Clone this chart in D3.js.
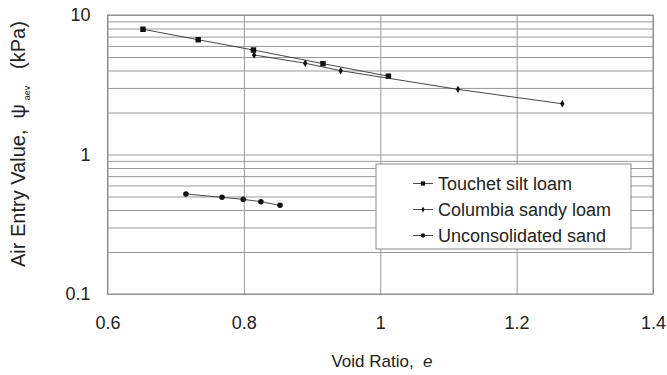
<!DOCTYPE html>
<html>
<head>
<meta charset="utf-8">
<script src="https://cdn.jsdelivr.net/npm/d3@7"></script>
<style>
  body { margin: 0; background: #fff; }
  svg text { font-family: "Liberation Sans", Arial, sans-serif; fill: #222; }
  .grid line { stroke: #9a9a9a; stroke-width: 1; }
  .grid path { display: none; }
  .axis path, .axis line { display: none; }
</style>
</head>
<body>
<svg id="chart"></svg>
<script>
// Void ratio (x) and air entry value in kPa (y)
const touchetE   = [0.652, 0.733, 0.814, 0.916, 1.012];
const touchetAev = [7.90, 6.65, 5.61, 4.48, 3.64];

const columbiaE   = [0.815, 0.890, 0.942, 1.114, 1.267];
const columbiaAev = [5.17, 4.51, 3.99, 2.93, 2.31];

const sandE   = [0.715, 0.768, 0.799, 0.825, 0.853];
const sandAev = [0.521, 0.493, 0.477, 0.459, 0.432];

const seriesNames = ['Touchet silt loam', 'Columbia sandy loam', 'Unconsolidated sand'];
const xTicks = [0.6, 0.8, 1.0, 1.2, 1.4];
const xTickLabels = ['0.6', '0.8', '1', '1.2', '1.4'];
const yTicks = [0.1, 1, 10];
const yTickLabels = ['0.1', '1', '10'];

const W = 667, H = 375;
const margin = {top: 15, right: 14, bottom: 81, left: 107.5};
const width = W - margin.left - margin.right;
const height = H - margin.top - margin.bottom;

const svg = d3.select('#chart').attr('width', W).attr('height', H);
const chart = svg.append('g').attr('transform', `translate(${margin.left},${margin.top})`);

const x = d3.scaleLinear().domain([0.6, 1.4]).range([0, width]);
const y = d3.scaleLog().domain([0.1, 10]).range([height, 0]);

// horizontal grid on every log step
const yGridVals = [];
[0.1, 1].forEach(dec => { for (let k = 1; k < 10; k++) yGridVals.push(dec * k); });
yGridVals.push(10);

chart.append('g').attr('class', 'grid')
  .call(d3.axisLeft(y).tickValues(yGridVals).tickSize(-width).tickFormat(''));
chart.append('g').attr('class', 'grid')
  .call(d3.axisBottom(x).tickValues(xTicks).tickSize(height).tickFormat(''));

// plot frame
chart.append('rect')
  .attr('width', width).attr('height', height)
  .attr('fill', 'none').attr('stroke', '#8a8a8a').attr('stroke-width', 1);

// axes labels
chart.append('g').attr('class', 'axis')
  .attr('transform', `translate(0,${height})`)
  .call(d3.axisBottom(x).tickValues(xTicks).tickSize(0).tickPadding(22)
    .tickFormat((d, i) => xTickLabels[i]))
  .selectAll('text').style('font-size', '18px');

chart.append('g').attr('class', 'axis')
  .call(d3.axisLeft(y).tickValues(yTicks).tickSize(0).tickPadding(17)
    .tickFormat((d, i) => yTickLabels[i]))
  .selectAll('text').style('font-size', '18px');

// x-axis title
const xt = svg.append('text')
  .attr('x', 382).attr('y', 367)
  .attr('text-anchor', 'middle')
  .style('font-size', '17px');
xt.append('tspan').text('Void Ratio,\u00a0 ');
xt.append('tspan').style('font-style', 'italic').text('e');

// y-axis title (rotated)
const yt = svg.append('text')
  .attr('transform', 'translate(25,267) rotate(-90)')
  .style('font-size', '20px');
yt.append('tspan').text('Air Entry Value,\u00a0 \u03c8');
yt.append('tspan').attr('dy', 5).attr('dx', 4).style('font-size', '9px').text('aev');
yt.append('tspan').attr('dy', -5).text('\u00a0\u00a0\u00a0(kPa)');

const series = [
  {name: seriesNames[0], e: touchetE, v: touchetAev, shape: d3.symbolSquare, size: 30},
  {name: seriesNames[1], e: columbiaE, v: columbiaAev, shape: d3.symbolDiamond, size: 16},
  {name: seriesNames[2], e: sandE, v: sandAev, shape: d3.symbolCircle, size: 24}
];

const line = d3.line().x(d => x(d[0])).y(d => y(d[1]));

series.forEach(s => {
  const pts = s.e.map((e, i) => [e, s.v[i]]);
  chart.append('path')
    .datum(pts)
    .attr('d', line)
    .attr('fill', 'none')
    .attr('stroke', '#333')
    .attr('stroke-width', 0.9);
  chart.selectAll(null)
    .data(pts)
    .join('path')
    .attr('transform', d => `translate(${x(d[0])},${y(d[1])})`)
    .attr('d', d3.symbol(s.shape, s.size))
    .attr('fill', '#111');
});

// legend
const legend = svg.append('g').attr('transform', 'translate(376,164)');
legend.append('rect')
  .attr('width', 255).attr('height', 85)
  .attr('fill', '#fff').attr('stroke', '#8a8a8a').attr('stroke-width', 1);

series.forEach((s, i) => {
  const row = legend.append('g').attr('transform', `translate(0,${19.5 + i * 26})`);
  row.append('line')
    .attr('x1', 37).attr('x2', 57)
    .attr('stroke', '#333').attr('stroke-width', 0.9);
  row.append('path')
    .attr('transform', 'translate(47,0)')
    .attr('d', d3.symbol(s.shape, s.size * 0.6))
    .attr('fill', '#111');
  row.append('text')
    .attr('x', 62).attr('dy', '0.35em')
    .style('font-size', '18px')
    .text(s.name);
});
</script>
</body>
</html>
